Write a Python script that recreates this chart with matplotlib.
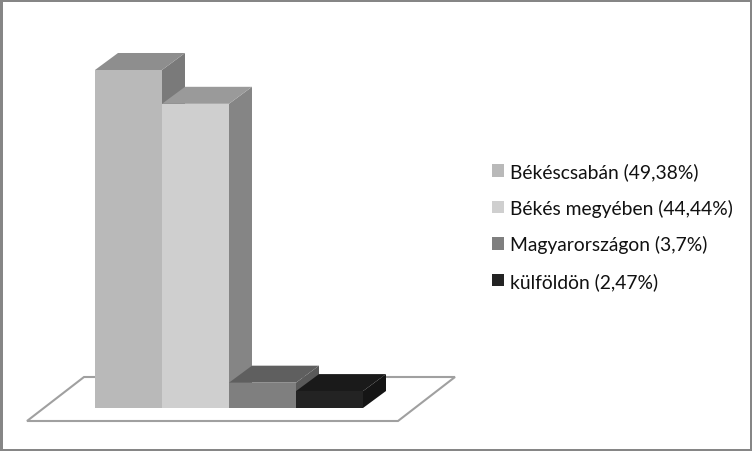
import matplotlib
matplotlib.use("Agg")
import matplotlib.pyplot as plt
from matplotlib.patches import Polygon, Patch

categories = ["Békéscsabán", "Békés megyében", "Magyarországon", "külföldön"]
values = [49.38, 44.44, 3.7, 2.47]
labels = ["Békéscsabán (49,38%)", "Békés megyében (44,44%)", "Magyarországon (3,7%)", "külföldön (2,47%)"]
front = ["#b9b9b9", "#cfcfcf", "#7f7f7f", "#232323"]
top = ["#8e8e8e", "#9a9a9a", "#5f5f5f", "#1a1a1a"]
side = ["#7a7a7a", "#858585", "#5a5a5a", "#151515"]

W, H = 752, 452
X0, Y0 = 95, 409          # pixel position of the data origin
PX_X, PX_Y = 67.0, 6.845  # pixels per bar and per percent
DX, DY = 23 / PX_X, 17 / PX_Y  # 3D depth in data units

plt.rcParams["font.family"] = ["Lato", "DejaVu Sans"]
fig = plt.figure(figsize=(W / 100, H / 100), dpi=100, facecolor="white")
ax = fig.add_axes([0, 0, 1, 1])
ax.set_xlim(-X0 / PX_X, (W - X0) / PX_X)
ax.set_ylim(-(H - Y0) / PX_Y, Y0 / PX_Y)
ax.set_xticks([])
ax.set_yticks([])
for s in ax.spines.values():
    s.set_linewidth(3.6)
    s.set_color("#868686")

# floor, depth-extended plane under the bars
fx0, fx1 = -68 / PX_X, 303 / PX_X
fy0, fy1 = -13 / PX_Y, 31 / PX_Y
skew = 57 / PX_X
ax.add_patch(Polygon([(fx0, fy0), (fx1, fy0), (fx1 + skew, fy1), (fx0 + skew, fy1)],
                     closed=True, fc="white", ec="#a0a0a0", lw=1.5, zorder=1))

# each bar drawn back-to-front so neighbours overlap like the original
for i, v in enumerate(values):
    z = 2 + i
    ax.add_patch(Polygon([(i + 1, 0), (i + 1 + DX, DY), (i + 1 + DX, v + DY), (i + 1, v)],
                         closed=True, fc=side[i], ec="none", zorder=z))
    ax.add_patch(Polygon([(i, v), (i + 1, v), (i + 1 + DX, v + DY), (i + DX, v + DY)],
                         closed=True, fc=top[i], ec="none", zorder=z))
    ax.bar(i, v, width=1, align="edge", color=front[i], zorder=z + 0.5)

handles = [Patch(fc=c, ec="none", label=l) for c, l in zip(front, labels)]
ax.legend(handles=handles, loc="center left", bbox_to_anchor=(492 / W, 1 - 227 / H),
          frameon=False, fontsize=13.85, handlelength=0.63, handleheight=0.63,
          handletextpad=0.28, labelspacing=0.96, borderpad=0, borderaxespad=0,
          labelcolor="#111111")

fig.savefig("out.png", dpi=100)
